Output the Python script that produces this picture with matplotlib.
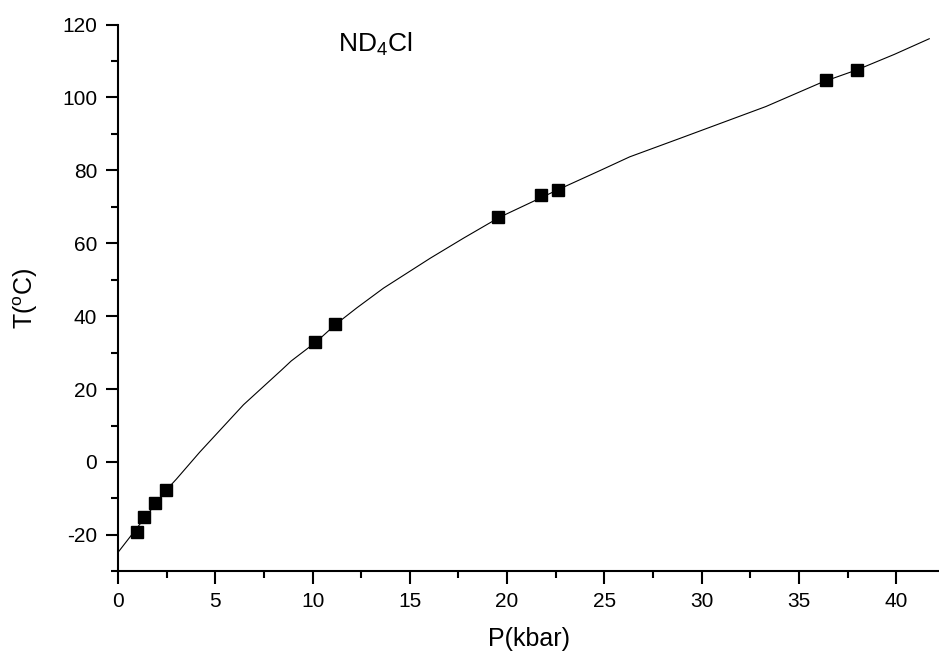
import matplotlib
matplotlib.use("Agg")
import matplotlib.pyplot as plt
from matplotlib.ticker import MultipleLocator

plt.rcParams['font.family'] = ['Liberation Sans', 'DejaVu Sans']
plt.rcParams['mathtext.fontset'] = 'custom'
plt.rcParams['mathtext.rm'] = 'Liberation Sans'
plt.rcParams['mathtext.it'] = 'Liberation Sans'
plt.rcParams['axes.unicode_minus'] = False

# measured transition points
p_kbar = [0.96, 1.35, 1.9, 2.45, 10.15, 11.15, 19.55, 21.75, 22.6, 36.4, 38.0]
t_c = [-19.2, -15.2, -11.2, -7.8, 33.0, 37.8, 67.1, 73.3, 74.7, 104.8, 107.6]

# fitted curve
fit_p = [0.0, 2.5, 3.0, 4.2, 6.45, 8.42, 8.9, 10.2, 11.2, 12.28, 13.65, 16.05, 17.76,
         19.6, 22.7, 24.8, 26.3, 28.9, 33.3, 36.2, 38.0, 39.9, 41.7]
fit_t = [-24.8, -7.6, -4.7, 2.7, 15.7, 25.3, 27.7, 33.0, 37.8, 42.3, 47.7, 55.9, 61.4,
         67.1, 74.9, 80.0, 83.7, 88.8, 97.5, 104.2, 107.6, 111.8, 116.1]

fig = plt.figure(figsize=(9.39, 6.54), dpi=100)
ax = fig.add_axes([0.1257, 0.1264, 0.8743, 0.8361])

ax.plot(fit_p, fit_t, color='black', lw=0.8)
ax.plot(p_kbar, t_c, 's', color='black', ms=8.5, ls='none')

ax.set_xlim(0, 42.2)
ax.set_ylim(-30, 120)
ax.xaxis.set_major_locator(MultipleLocator(5))
ax.xaxis.set_minor_locator(MultipleLocator(2.5))
ax.yaxis.set_major_locator(MultipleLocator(20))
ax.yaxis.set_minor_locator(MultipleLocator(10))

for s in ['top', 'right']:
    ax.spines[s].set_visible(False)
for s in ['left', 'bottom']:
    ax.spines[s].set_linewidth(1.5)

ax.tick_params(which='major', direction='out', length=9, width=1.5, labelsize=15, pad=6)
ax.tick_params(which='minor', direction='out', length=5, width=1.5)

ax.set_xlabel('P(kbar)', fontsize=18)
ax.set_ylabel(r'T($^{\rm o}$C)', fontsize=18)
ax.xaxis.set_label_coords(0.5, -0.102)
ax.yaxis.set_label_coords(-0.095, 0.5)

ax.text(11.3, 112.6, r'ND$_4$Cl', fontsize=19, ha='left', va='baseline')

fig.savefig('out.png', dpi=100)
